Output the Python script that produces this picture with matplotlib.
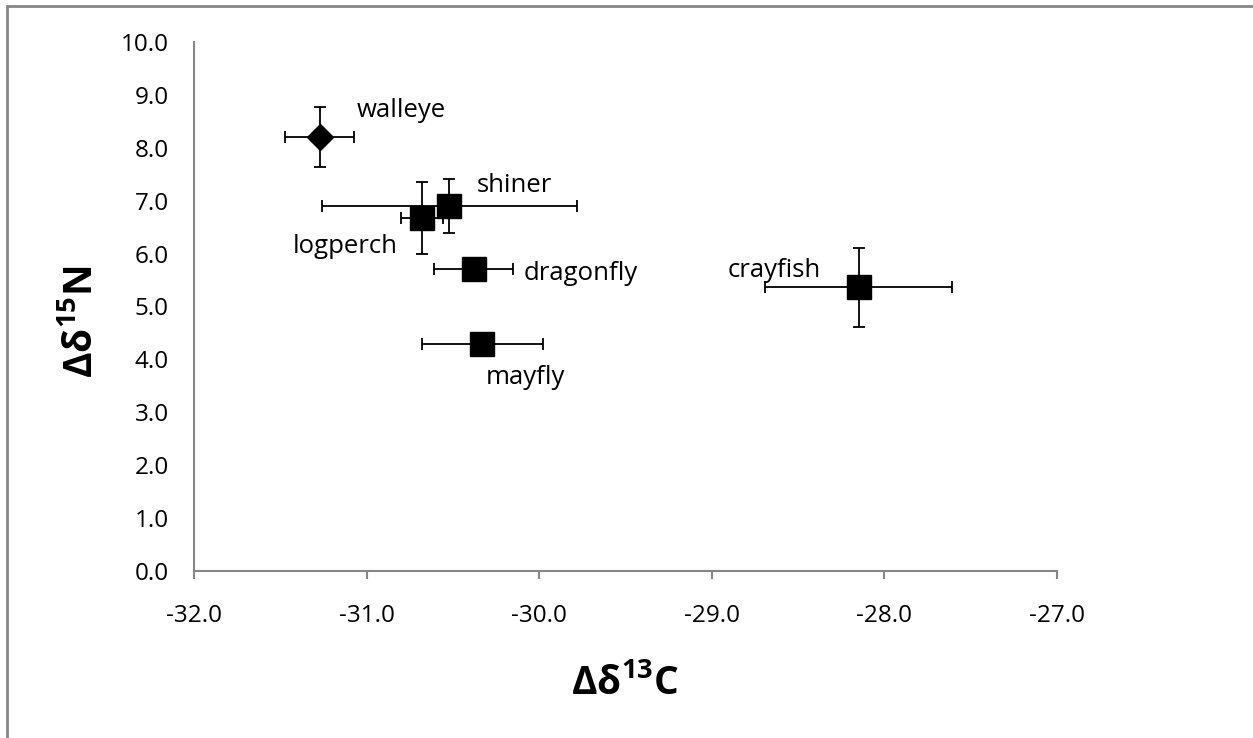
import matplotlib.pyplot as plt
from matplotlib.patches import Rectangle

plt.rcParams['font.family'] = ['Open Sans', 'DejaVu Sans']
plt.rcParams['mathtext.fontset'] = 'custom'
plt.rcParams['mathtext.rm'] = 'Open Sans:bold'
plt.rcParams['mathtext.bf'] = 'Open Sans:bold'
plt.rcParams['mathtext.it'] = 'Open Sans:bold'

# data
taxa = ['walleye', 'shiner', 'logperch', 'dragonfly', 'mayfly', 'crayfish']
d13c = [-31.27, -30.52, -30.68, -30.38, -30.33, -28.15]
d15n = [8.21, 6.90, 6.67, 5.70, 4.30, 5.36]
d13c_err = [0.20, 0.74, 0.12, 0.23, 0.35, 0.54]
d15n_err = [0.57, 0.51, 0.68, 0.0, 0.0, 0.75]
markers = ['D', 's', 's', 's', 's', 's']

# label placement (data coords)
label_x = [-31.06, -30.36, -31.43, -30.09, -30.31, -28.91]
label_y = [8.71, 7.28, 6.13, 5.63, 3.65, 5.68]

fig = plt.figure(figsize=(12.53, 7.38), dpi=100)
ax = fig.add_axes([0.1548, 0.2263, 0.6888, 0.7168])

for i in range(len(taxa)):
    ms = 13.7 if markers[i] == 'D' else 17
    yerr = d15n_err[i] if d15n_err[i] > 0 else None
    ax.errorbar(d13c[i], d15n[i], xerr=d13c_err[i], yerr=yerr,
                fmt=markers[i], color='black', ms=ms, elinewidth=1.3,
                capsize=4, capthick=1.3, zorder=3)
    ax.text(label_x[i], label_y[i], taxa[i], fontsize=18.5,
            ha='left', va='center')

ax.set_xlim(-32, -27)
ax.set_ylim(0, 10)
ax.set_xticks([-32, -31, -30, -29, -28, -27])
ax.set_yticks(range(0, 11))
ax.xaxis.set_major_formatter(plt.FuncFormatter(lambda v, p: f'{v:.1f}'))
ax.yaxis.set_major_formatter(plt.FuncFormatter(lambda v, p: f'{v:.1f}'))
ax.tick_params(axis='x', direction='out', length=6, width=1.5, color='#868686',
               labelsize=17.5, pad=18)
ax.tick_params(axis='y', length=0, labelsize=17.5, pad=18)

for s in ['top', 'right']:
    ax.spines[s].set_visible(False)
for s in ['left', 'bottom']:
    ax.spines[s].set_color('#868686')
    ax.spines[s].set_linewidth(1.5)

fig.text(625 / 1253, 1 - 683 / 738, r'$\mathbf{Δδ^{13}C}$', fontsize=28,
         ha='center', va='center')
fig.text(82 / 1253, 1 - 322 / 738, r'$\mathbf{Δδ^{15}N}$', fontsize=28,
         ha='center', va='center', rotation=90)

# outer chart-area frame
fig.patches.append(Rectangle((7 / 1253, -0.05), 1.1, 1 - 6 / 738 + 0.05,
                             transform=fig.transFigure, fill=False,
                             edgecolor='#868686', linewidth=2))

fig.savefig('out.png', dpi=100)
